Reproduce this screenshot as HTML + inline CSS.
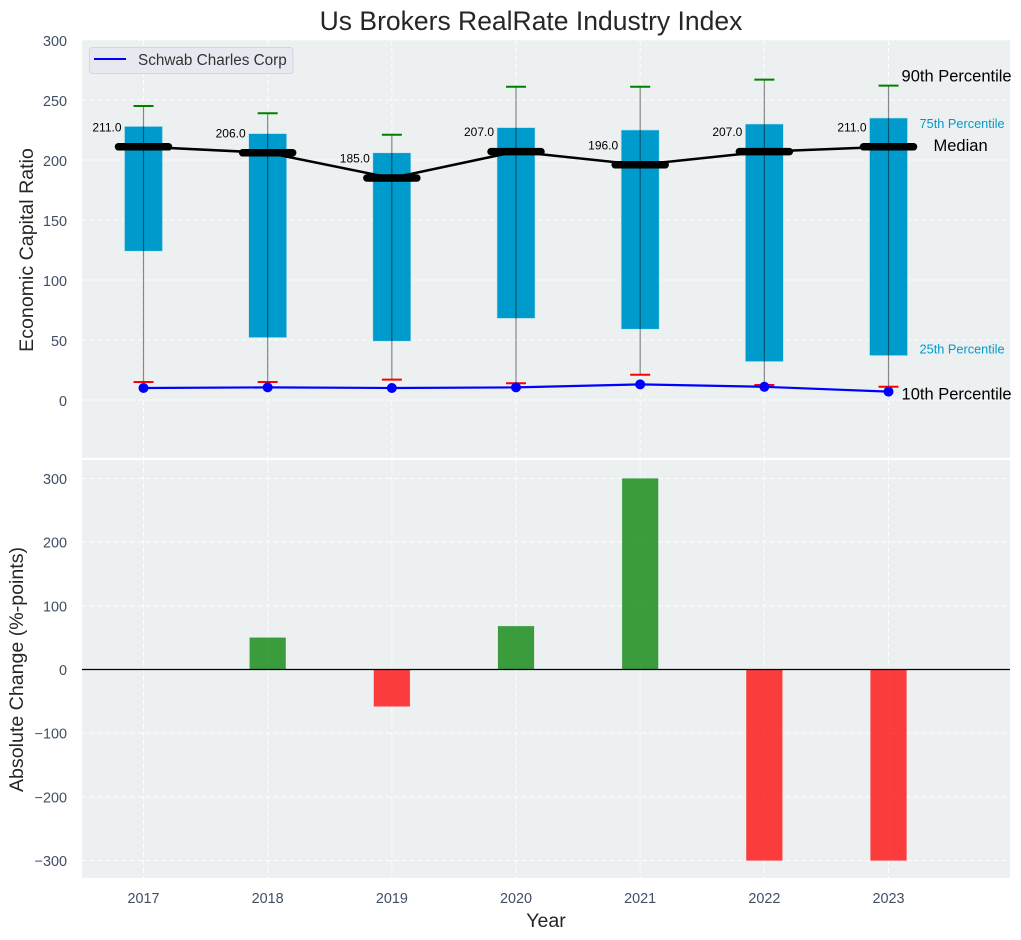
<!DOCTYPE html>
<html lang="en">
<head>
<meta charset="utf-8">
<title>Us Brokers RealRate Industry Index</title>
<style>
html,body{margin:0;padding:0;background:#fff;}
svg{display:block;font-family:"Liberation Sans",Arial,sans-serif;}
</style>
</head>
<body>
<svg id="chart" xmlns="http://www.w3.org/2000/svg" width="1021" height="940" viewBox="0 0 1021 940"></svg>
<script>
const years = [2017, 2018, 2019, 2020, 2021, 2022, 2023];
const p90 = [245, 239, 221, 261, 261, 267, 262];
const p75 = [228, 222, 206, 227, 225, 230, 235];
const medians = [211, 206, 185, 207, 196, 207, 211];
const medianLabels = ["211.0", "206.0", "185.0", "207.0", "196.0", "207.0", "211.0"];
const p25 = [124, 52, 49, 68, 59, 32, 37];
const p10 = [15, 15, 17, 14, 21, 12.5, 11];
const company = [10, 10.5, 10, 10.5, 13, 11, 7];
const changes = [0, 50, -58, 68, 300, -300, -300];
const topTicks = [0, 50, 100, 150, 200, 250, 300];
const bottomTicks = [-300, -200, -100, 0, 100, 200, 300];

const NS = 'http://www.w3.org/2000/svg';
const svg = document.getElementById('chart');
const L = 82, R = 1010, T1 = 40, B1 = 458, T2 = 460, B2 = 878;
const x = v => 143.5 + (v - 2017) * 124.17;
const yTop = v => 400 - v * 1.2;
const yBot = v => 669.5 - v * 0.6367;

function mk(tag, props, text) {
  const el = document.createElementNS(NS, tag);
  for (const k in props) el.setAttribute(k, props[k]);
  if (text !== undefined) el.textContent = text;
  svg.appendChild(el);
  return el;
}
function tickText(value) {
  return String(value).replace('-', '\u2212');
}
let el;

el = mk('rect', {x: L, y: T1, width: R - L, height: B1 - T1, fill: '#ecf0f1'});


el = mk('rect', {x: L, y: T2, width: R - L, height: B2 - T2, fill: '#ecf0f1'});



const gridStyle = {stroke: '#fff', 'stroke-width': 1, 'stroke-dasharray': '5 3', opacity: 0.9};
topTicks.forEach(t => {
  el = mk('line', Object.assign({x1: L, x2: R, y1: yTop(t), y2: yTop(t)}, gridStyle));
  
  
  el = mk('text', {x: 67, y: yTop(t) + 6, 'text-anchor': 'end', 'font-size': 14.4, fill: '#3f4f66'}, tickText(t));
  
  
});
bottomTicks.forEach(t => {
  el = mk('line', Object.assign({x1: L, x2: R, y1: yBot(t), y2: yBot(t)}, gridStyle));
  
  
  el = mk('text', {x: 67, y: yBot(t) + 5.5, 'text-anchor': 'end', 'font-size': 14.4, fill: '#3f4f66'}, tickText(t));
  
  
});
years.forEach(yr => {
  el = mk('line', Object.assign({x1: x(yr), x2: x(yr), y1: T1, y2: B1}, gridStyle));
  
  
  el = mk('line', Object.assign({x1: x(yr), x2: x(yr), y1: T2, y2: B2}, gridStyle));
  
  
  el = mk('text', {x: x(yr), y: 903, 'text-anchor': 'middle', 'font-size': 14.4, fill: '#3f4f66'}, yr);
  
  
});

years.forEach((yr, i) => {
  el = mk('rect', {x: x(yr) - 19, y: yTop(p75[i]), width: 38, height: yTop(p25[i]) - yTop(p75[i]), fill: '#009bcd', stroke: '#bfe3ee', 'stroke-width': 0.6});
  
  
  el = mk('line', {x1: x(yr), x2: x(yr), y1: yTop(p90[i]), y2: yTop(p10[i]), stroke: '#000', 'stroke-opacity': 0.45, 'stroke-width': 1.2});
  
  
  el = mk('line', {x1: x(yr) - 10, x2: x(yr) + 10, y1: yTop(p90[i]), y2: yTop(p90[i]), stroke: '#008000', 'stroke-width': 2});
  
  
  el = mk('line', {x1: x(yr) - 10, x2: x(yr) + 10, y1: yTop(p10[i]), y2: yTop(p10[i]), stroke: '#ff0000', 'stroke-width': 2});
  
  
});

el = mk('polyline', {points: years.map((yr, i) => x(yr) + ',' + yTop(medians[i])).join(' '), fill: 'none', stroke: '#000', 'stroke-width': 2.5});


years.forEach((yr, i) => {
  el = mk('line', {x1: x(yr) - 25, x2: x(yr) + 25, y1: yTop(medians[i]), y2: yTop(medians[i]), stroke: '#000', 'stroke-width': 7.5, 'stroke-linecap': 'round'});
  
  
  el = mk('text', {x: x(yr) - 22, y: yTop(medians[i]) - 15.5, 'text-anchor': 'end', 'font-size': 12, fill: '#000'}, medianLabels[i]);
  
  
});

el = mk('polyline', {points: years.map((yr, i) => x(yr) + ',' + yTop(company[i])).join(' '), fill: 'none', stroke: '#0000ff', 'stroke-width': 2.2});


years.forEach((yr, i) => {
  el = mk('circle', {cx: x(yr), cy: yTop(company[i]), r: 5, fill: '#0000ff'});
  
  
});

const last = years.length - 1;
const lastX = x(years[last]);
el = mk('text', {x: lastX + 13, y: yTop(p90[last]) - 4, 'font-size': 16.5, fill: '#000'}, '90th Percentile');


el = mk('text', {x: lastX + 31, y: yTop(p75[last]) + 10, 'font-size': 12.75, fill: '#009bcd'}, '75th Percentile');


el = mk('text', {x: lastX + 45, y: yTop(medians[last]) + 4, 'font-size': 16.5, fill: '#000'}, 'Median');


el = mk('text', {x: lastX + 31, y: yTop(p25[last]) - 2, 'font-size': 12.75, fill: '#009bcd'}, '25th Percentile');


el = mk('text', {x: lastX + 13, y: yTop(company[last]) + 8, 'font-size': 16.5, fill: '#000'}, '10th Percentile');



years.forEach((yr, i) => {
  if (changes[i] === 0) return;
  const y0 = yBot(Math.max(changes[i], 0));
  const y1 = yBot(Math.min(changes[i], 0));
  el = mk('rect', {x: x(yr) - 18, y: y0, width: 36, height: y1 - y0, fill: changes[i] > 0 ? '#008000' : '#ff0000', 'fill-opacity': 0.75, stroke: changes[i] > 0 ? '#008000' : '#ff0000', 'stroke-opacity': 0.2, 'stroke-width': 0.6});
  
  
});
el = mk('line', {x1: L, x2: R, y1: yBot(0), y2: yBot(0), stroke: '#000', 'stroke-width': 1.2});



el = mk('rect', {x: 89.5, y: 47.5, width: 203.5, height: 26, rx: 3, fill: '#e8e9f0', stroke: '#d6d7de', 'stroke-width': 1});


el = mk('line', {x1: 94, x2: 126, y1: 59, y2: 59, stroke: '#0000ff', 'stroke-width': 2});


el = mk('text', {x: 138, y: 65, 'font-size': 15.3, fill: '#333'}, 'Schwab Charles Corp');



el = mk('text', {x: 531, y: 30, 'text-anchor': 'middle', 'font-size': 26.5, fill: '#262626'}, 'Us Brokers RealRate Industry Index');


el = mk('text', {x: 546, y: 927, 'text-anchor': 'middle', 'font-size': 19.6, fill: '#262626'}, 'Year');


el = mk('text', {transform: 'translate(33,250) rotate(-90)', 'text-anchor': 'middle', 'font-size': 19.6, fill: '#262626'}, 'Economic Capital Ratio');


el = mk('text', {transform: 'translate(23,669.5) rotate(-90)', 'text-anchor': 'middle', 'font-size': 19.6, fill: '#262626'}, 'Absolute Change (%-points)');


</script>
</body>
</html>
